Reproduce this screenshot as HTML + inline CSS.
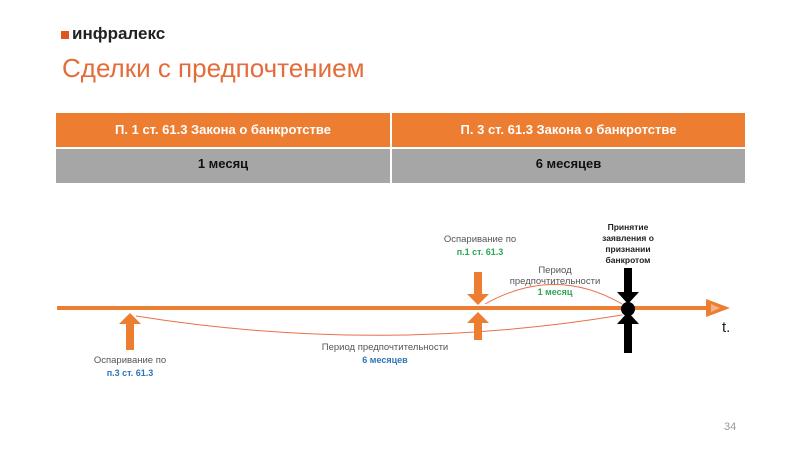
<!DOCTYPE html>
<html><head><meta charset="utf-8"><style>
body{margin:0;width:800px;height:450px;background:#fff;position:relative;overflow:hidden;font-family:"Liberation Sans","DejaVu Sans",sans-serif}
.a{position:absolute}
</style></head><body>
<div class="a" style="left:61px;top:31px;width:8px;height:8px;background:#E0541F"></div>
<div class="a" style="left:72px;top:24px;font-size:17px;font-weight:bold;color:#222">инфралекс</div>
<div class="a" style="left:62px;top:53px;font-size:26px;color:#E46C3A">Сделки с предпочтением</div>
<div class="a" style="left:56px;top:113px;width:334px;height:34px;background:#ED7D31;color:#fff;font-weight:bold;font-size:13px;line-height:34px;text-align:center">П. 1 ст. 61.3 Закона о банкротстве</div>
<div class="a" style="left:392px;top:113px;width:353px;height:34px;background:#ED7D31;color:#fff;font-weight:bold;font-size:13px;line-height:34px;text-align:center">П. 3 ст. 61.3 Закона о банкротстве</div>
<div class="a" style="left:56px;top:149px;width:334px;height:34px;background:#A6A6A6;color:#111;font-weight:bold;font-size:13px;line-height:30px;text-align:center">1 месяц</div>
<div class="a" style="left:392px;top:149px;width:353px;height:34px;background:#A6A6A6;color:#111;font-weight:bold;font-size:13px;line-height:30px;text-align:center">6 месяцев</div>
<svg class="a" style="left:0;top:0" width="800" height="450">
<line x1="57" y1="308" x2="712" y2="308" stroke="#ED7D31" stroke-width="4"/>
<polygon points="706,299 730,308 706,317" fill="#ED7D31"/>
<polygon points="711,304 720,308 711,312" fill="#F4B183"/>
<path d="M136,316 Q380,355 622,315" fill="none" stroke="#E8704A" stroke-width="1"/>
<path d="M485,304 Q555,265 622,304" fill="none" stroke="#E8704A" stroke-width="1"/>
<polygon points="130,313 141,324 134,324 134,350 126,350 126,324 119,324" fill="#ED7D31"/>
<polygon points="474,272 482,272 482,294 489,294 478,305 467,294 474,294" fill="#ED7D31"/>
<polygon points="478,312 489,323 482,323 482,340 474,340 474,323 467,323" fill="#ED7D31"/>
<polygon points="624,268 632,268 632,292 639,292 628,304 617,292 624,292" fill="#000"/>
<polygon points="628,312 639,324 632,324 632,353 624,353 624,324 617,324" fill="#000"/>
<circle cx="628" cy="309" r="7" fill="#000"/>
</svg>
<div class="a" style="left:722px;top:319px;font-size:15px;color:#222">t.</div>
<div class="a" style="left:60px;top:355px;width:140px;text-align:center;font-size:9.5px;color:#555;line-height:12px">Оспаривание по<br><b style="color:#2E75B6;font-size:9px">п.3 ст. 61.3</b></div>
<div class="a" style="left:300px;top:342px;width:170px;text-align:center;font-size:9.5px;color:#555;line-height:12px">Период предпочтительности<br><b style="color:#2E75B6;font-size:9px">6 месяцев</b></div>
<div class="a" style="left:410px;top:234px;width:140px;text-align:center;font-size:9.5px;color:#555;line-height:12px">Оспаривание по<br><b style="color:#2EA55A;font-size:9px">п.1 ст. 61.3</b></div>
<div class="a" style="left:490px;top:265px;width:130px;text-align:center;font-size:9.5px;color:#555;line-height:11px">Период<br>предпочтительности<br><b style="color:#2EA55A;font-size:9px">1 месяц</b></div>
<div class="a" style="left:588px;top:222px;width:80px;text-align:center;font-size:8.5px;font-weight:bold;color:#222;line-height:11px">Принятие заявления о признании банкротом</div>
<div class="a" style="left:724px;top:421px;font-size:11px;color:#999">34</div>
</body></html>
